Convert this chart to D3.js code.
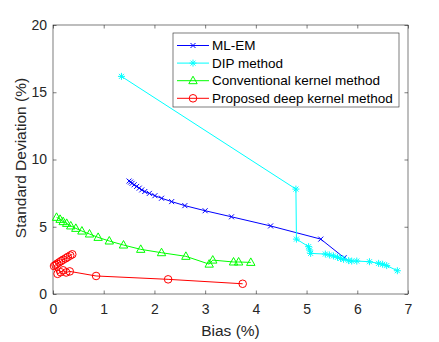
<!DOCTYPE html>
<html>
<head>
<meta charset="utf-8">
<script src="https://cdn.jsdelivr.net/npm/d3@7"></script>
<style>
  body { margin: 0; background: #fff; }
  svg { font-family: "Liberation Sans", Arial, sans-serif; }
</style>
</head>
<body>
<div id="chart"></div>
<script>
// series, each as [bias, std]
var mlem = [[1.50,8.40],[1.53,8.32],[1.56,8.23],[1.60,8.12],[1.65,8.00],[1.70,7.87],[1.75,7.74],[1.81,7.62],
  [1.90,7.48],[2.01,7.31],[2.14,7.12],[2.34,6.87],[2.60,6.57],[3.00,6.19],[3.52,5.74],[4.29,5.06],[5.28,4.08],[5.74,2.70]];
var dip = [[1.35,16.18],[4.79,7.80],[4.80,4.08],[5.04,3.52],[5.06,3.27],[5.08,3.02],[5.37,2.97],[5.45,2.90],
  [5.53,2.83],[5.61,2.73],[5.67,2.65],[5.73,2.58],[5.83,2.48],[5.89,2.45],[5.99,2.45],[6.24,2.40],
  [6.42,2.28],[6.50,2.21],[6.58,2.11],[6.79,1.73]];
var conventional = [[0.07,5.70],[0.14,5.55],[0.20,5.38],[0.27,5.25],[0.35,5.06],[0.45,4.88],[0.57,4.68],
  [0.72,4.46],[0.89,4.21],[1.11,3.94],[1.39,3.64],[1.73,3.32],[2.14,3.07],[2.62,2.80],[3.08,2.22],
  [3.15,2.52],[3.56,2.38],[3.66,2.38],[3.90,2.35]];
var proposed = [[3.74,0.76],[2.27,1.09],[0.85,1.34],[0.33,1.68],[0.26,1.60],[0.20,1.76],[0.15,1.62],
  [0.09,1.50],[0.02,2.08],[0.05,2.16],[0.08,2.25],[0.12,2.35],[0.16,2.45],[0.20,2.55],[0.25,2.65],
  [0.29,2.75],[0.34,2.86],[0.38,2.95]];

var seriesNames = ["ML-EM", "DIP method", "Conventional kernel method", "Proposed deep kernel method"];
var xTicks = [0, 1, 2, 3, 4, 5, 6, 7];
var yTicks = [0, 5, 10, 15, 20];

var width = 439, height = 342;
var margin = { left: 53, top: 25, right: 31, bottom: 48 };
var innerWidth = width - margin.left - margin.right;
var innerHeight = height - margin.top - margin.bottom;

var x = d3.scaleLinear().domain([0, 7]).range([0, innerWidth]);
var y = d3.scaleLinear().domain([0, 20]).range([innerHeight, 0]);

var svg = d3.select("#chart").append("svg")
  .attr("width", width)
  .attr("height", height);

var g = svg.append("g")
  .attr("transform", "translate(" + margin.left + "," + margin.top + ")");

var axisColor = "#262626";

// box
g.append("rect")
  .attr("width", innerWidth).attr("height", innerHeight)
  .attr("fill", "none").attr("stroke", axisColor).attr("stroke-width", 0.6);

// axes with inward ticks
function styleAxis(sel) {
  sel.select(".domain").remove();
  sel.selectAll("line").attr("stroke", axisColor).attr("stroke-width", 0.6);
  sel.selectAll("text").attr("fill", axisColor).style("font-size", "14px");
}
// top/right: tick marks only
function ticksOnly(sel) {
  styleAxis(sel);
  sel.selectAll("text").remove();
}
g.append("g").attr("transform", "translate(0," + innerHeight + ")")
  .call(d3.axisBottom(x).tickValues(xTicks).tickSizeInner(-3.5).tickSizeOuter(0).tickPadding(10).tickFormat(d3.format("d")))
  .call(styleAxis);
g.append("g")
  .call(d3.axisTop(x).tickValues(xTicks).tickSizeInner(-3.5).tickSizeOuter(0))
  .call(ticksOnly);
g.append("g")
  .call(d3.axisLeft(y).tickValues(yTicks).tickSizeInner(-3.5).tickSizeOuter(0).tickPadding(6).tickFormat(d3.format("d")))
  .call(styleAxis);
g.append("g").attr("transform", "translate(" + innerWidth + ",0)")
  .call(d3.axisRight(y).tickValues(yTicks).tickSizeInner(-3.5).tickSizeOuter(0))
  .call(ticksOnly);

// axis titles
g.append("text")
  .attr("x", innerWidth / 2).attr("y", innerHeight + 42)
  .attr("text-anchor", "middle").attr("fill", axisColor)
  .style("font-size", "15.5px").text("Bias (%)");
g.append("text")
  .attr("transform", "translate(-27," + (innerHeight / 2 - 1.5) + ") rotate(-90)")
  .attr("text-anchor", "middle").attr("fill", axisColor)
  .style("font-size", "15.5px").text("Standard Deviation (%)");

// marker drawers
function drawMarker(sel, type, color) {
  if (type === "x") {
    sel.append("path").attr("d", "M-2.5,-2.5L2.5,2.5M-2.5,2.5L2.5,-2.5")
      .attr("stroke", color).attr("stroke-width", 1).attr("fill", "none");
  } else if (type === "star") {
    sel.append("path").attr("d", "M-3.5,0L3.5,0M0,-3.5L0,3.5M-2.5,-2.5L2.5,2.5M-2.5,2.5L2.5,-2.5")
      .attr("stroke", color).attr("stroke-width", 1).attr("fill", "none");
  } else if (type === "tri") {
    sel.append("path").attr("d", "M0,-4.5L4.2,3L-4.2,3Z")
      .attr("stroke", color).attr("stroke-width", 1).attr("fill", "none");
  } else {
    sel.append("circle").attr("r", 3.8)
      .attr("stroke", color).attr("stroke-width", 1).attr("fill", "none");
  }
}

var series = [
  { name: seriesNames[0], data: mlem, color: "#0000ff", marker: "x" },
  { name: seriesNames[1], data: dip, color: "#00ffff", marker: "star" },
  { name: seriesNames[2], data: conventional, color: "#00ff00", marker: "tri" },
  { name: seriesNames[3], data: proposed, color: "#ff0000", marker: "circle" }
];

var line = d3.line().x(d => x(d[0])).y(d => y(d[1]));

series.forEach(function (s) {
  var sg = g.append("g");
  sg.append("path").attr("d", line(s.data))
    .attr("fill", "none").attr("stroke", s.color).attr("stroke-width", 1);
  sg.selectAll("g.pt").data(s.data).enter().append("g")
    .attr("class", "pt")
    .attr("transform", d => "translate(" + x(d[0]) + "," + y(d[1]) + ")")
    .each(function () { drawMarker(d3.select(this), s.marker, s.color); });
});

// legend
var legend = svg.append("g").attr("transform", "translate(173,33)");
legend.append("rect")
  .attr("width", 226).attr("height", 74)
  .attr("fill", "#fff").attr("stroke", axisColor).attr("stroke-width", 0.6);
series.forEach(function (s, i) {
  var ly = 12.5 + i * 17.6;
  var row = legend.append("g").attr("transform", "translate(0," + ly + ")");
  row.append("line").attr("x1", 4).attr("x2", 36).attr("y1", 0).attr("y2", 0)
    .attr("stroke", s.color).attr("stroke-width", 1);
  var m = row.append("g").attr("transform", "translate(20,0)");
  drawMarker(m, s.marker, s.color);
  row.append("text").attr("x", 39).attr("y", 0).attr("dy", "0.35em")
    .attr("fill", "#000").style("font-size", "13.5px").text(s.name);
});
</script>
</body>
</html>
